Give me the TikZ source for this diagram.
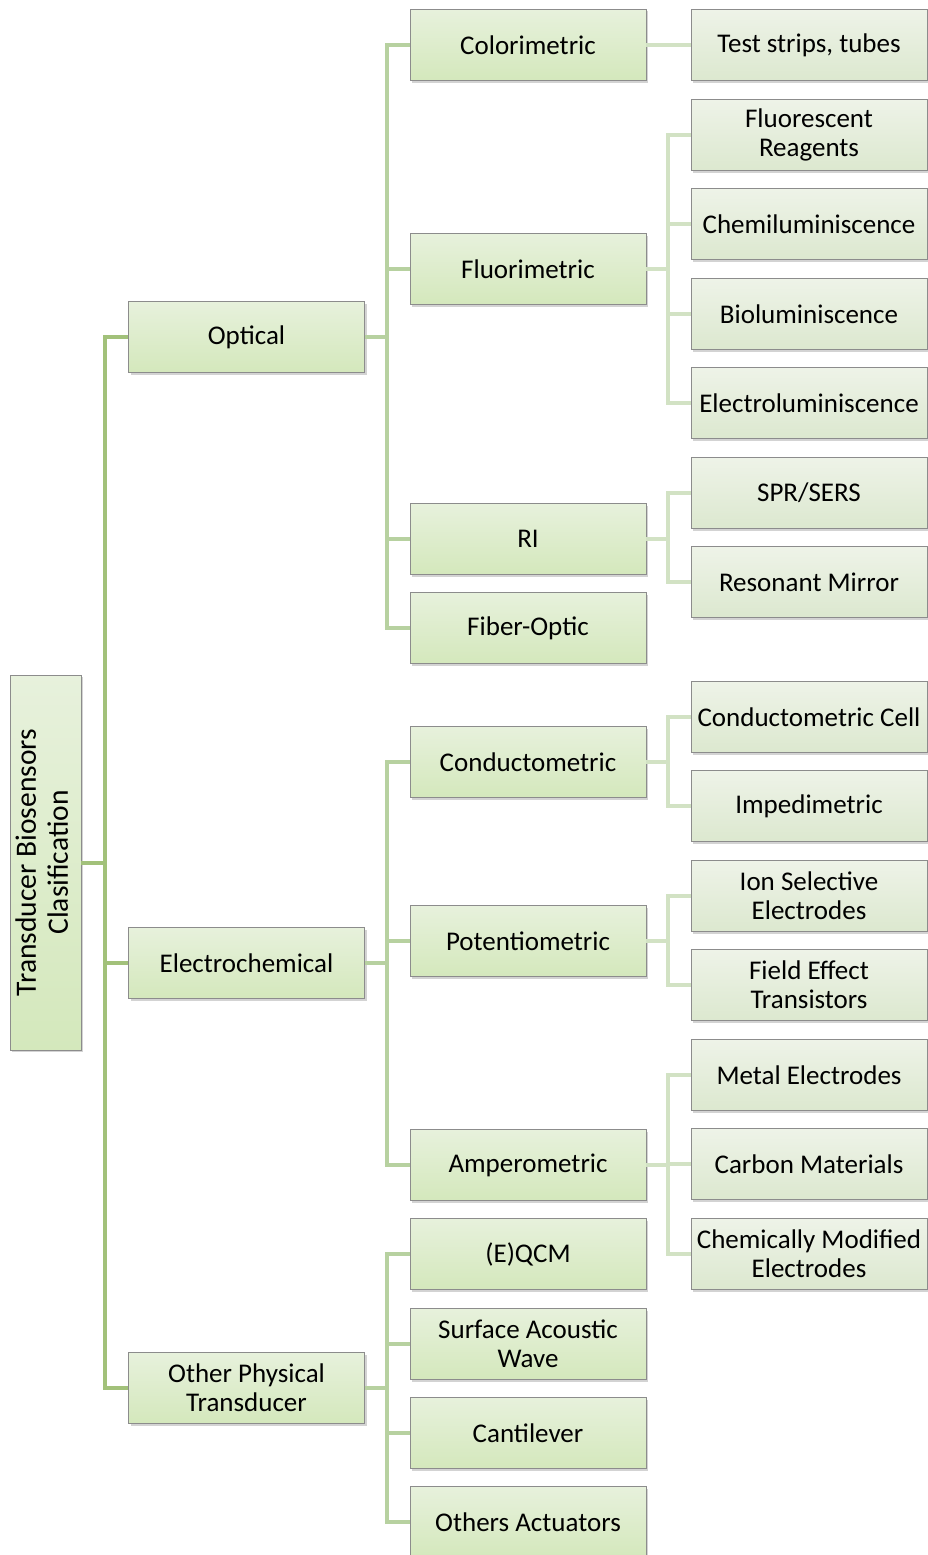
\documentclass[tikz,border=0pt]{standalone}
\usepackage{fontspec}
\setmainfont{Carlito}
\usetikzlibrary{shadows}
\definecolor{rootLine}{HTML}{A2C17A}
\definecolor{midLine}{HTML}{B7D1A0}
\definecolor{leafLine}{HTML}{D2E2C4}
\definecolor{boxTop}{HTML}{E7F1DC}
\definecolor{boxBot}{HTML}{D4E8BC}
\definecolor{leafTop}{HTML}{EEF3E8}
\definecolor{leafBot}{HTML}{DCE8CF}
\begin{document}
\begin{tikzpicture}[x=1pt, y=-1pt, line join=miter, font=\fontsize{27}{29}\selectfont,
		box/.style={draw=black!45, line width=0.8pt, top color=boxTop, bottom color=boxBot,
			minimum width=236pt, minimum height=71pt, inner sep=0pt, align=center,
			drop shadow={shadow xshift=2pt, shadow yshift=-2pt, opacity=0.35}},
		leafbox/.style={box, top color=leafTop, bottom color=leafBot},
		rootline/.style={draw=rootLine, line width=4pt},
		midline/.style={draw=midLine, line width=4pt},
		leafline/.style={draw=leafLine, line width=4pt}]
				\useasboundingbox (0,0) rectangle (927,1555);
				% root
				\node[box, minimum width=71pt, minimum height=375pt, font=\fontsize{29.5}{32}\selectfont] (root) at (45.5,862.5)
					{\rotatebox{90}{\begin{tabular}{@{}c@{}}Transducer Biosensors\\Clasification\end{tabular}}};
				% first level
				\foreach \n/\y/\t in {opt/337/Optical, ele/963/Electrochemical,
					oth/1388/{Other Physical\\Transducer}} {
					\node[box] (\n) at (246.5,\y) {\t};
				}
				% second level
				\foreach \n/\y/\t in {col/45/Colorimetric, flu/269/Fluorimetric, ri/539/RI,
					fib/628/Fiber-Optic, con/762/Conductometric, pot/941/Potentiometric,
					amp/1165/Amperometric, qcm/1254/(E)QCM, saw/1344/{Surface Acoustic\\Wave},
					can/1433/Cantilever, act/1522/Others Actuators} {
					\node[box] (\n) at (528,\y) {\t};
				}
				% third level
				\foreach \n/\y/\t in {tst/45/{Test strips, tubes}, fre/135/{Fluorescent\\Reagents},
					chl/224/Chemiluminiscence, bil/314/Bioluminiscence, ell/403/Electroluminiscence,
					spr/493/{SPR/SERS}, rsm/582/Resonant Mirror, cdc/717/Conductometric Cell,
					imp/806/Impedimetric, ise/896/{Ion Selective\\Electrodes},
					fet/985/{Field Effect\\Transistors}, mel/1075/Metal Electrodes,
					car/1164/Carbon Materials, cme/1254/{Chemically Modified\\Electrodes}} {
					\node[leafbox] (\n) at (809,\y) {\t};
				}
				% connectors
				\draw[rootline] (root.east) -- ++(24,0) coordinate (trunk);
				\foreach \n in {opt,ele,oth} {
					\draw[rootline] (trunk) |- (\n.west);
				}
				\foreach \n in {col,flu,ri,fib} {
					\draw[midline] (opt.east) -- ++(22,0) |- (\n.west);
				}
				\foreach \n in {con,pot,amp} {
					\draw[midline] (ele.east) -- ++(22,0) |- (\n.west);
				}
				\foreach \n in {qcm,saw,can,act} {
					\draw[midline] (oth.east) -- ++(22,0) |- (\n.west);
				}
				\draw[leafline] (col.east) -- (tst.west);
				\foreach \n in {fre,chl,bil,ell} {
					\draw[leafline] (flu.east) -- ++(22,0) |- (\n.west);
				}
				\foreach \n in {spr,rsm} {
					\draw[leafline] (ri.east) -- ++(22,0) |- (\n.west);
				}
				\foreach \n in {cdc,imp} {
					\draw[leafline] (con.east) -- ++(22,0) |- (\n.west);
				}
				\foreach \n in {ise,fet} {
					\draw[leafline] (pot.east) -- ++(22,0) |- (\n.west);
				}
				\foreach \n in {mel,car,cme} {
					\draw[leafline] (amp.east) -- ++(22,0) |- (\n.west);
				}
			\end{tikzpicture}
\end{document}
